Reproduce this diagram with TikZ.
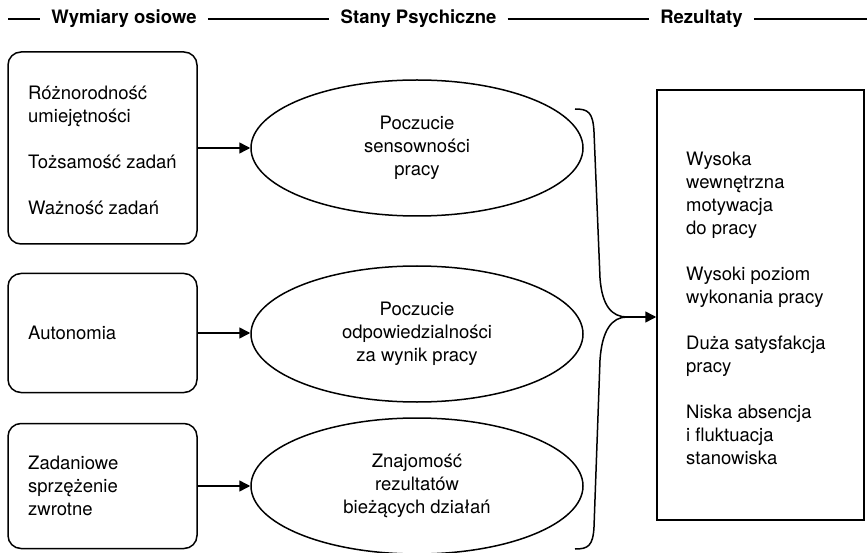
\documentclass[tikz,border=0pt]{standalone}
\usepackage{fontspec}
\setmainfont{TeX Gyre Heros}
\usetikzlibrary{shapes.geometric,arrows.meta}
\begin{document}
\begin{tikzpicture}[x=1pt,y=-1pt,
  every node/.style={font=\fontsize{18.5}{23}\selectfont, text=black},
  hdr/.style={font=\bfseries\fontsize{18.5}{23}\selectfont, inner xsep=11pt, inner ysep=0pt},
  hline/.style={line width=1.5pt},
  lbox/.style={draw, line width=1.5pt, rounded corners=13pt, minimum width=189pt, inner sep=0pt},
  ltext/.style={anchor=west, align=left, inner sep=0pt},
  ell/.style={draw, ellipse, line width=1.5pt, minimum width=332pt, minimum height=136pt,
    align=center, inner sep=0pt},
  rbox/.style={draw, line width=1.5pt, minimum width=207pt, minimum height=430pt, inner sep=0pt},
  rtext/.style={anchor=west, align=left, inner sep=0pt},
  arr/.style={line width=1.5pt, -{Triangle[length=11pt,width=11pt]}},
  brace/.style={line width=1.5pt}
]
\useasboundingbox (0,0) rectangle (867,553);

% header
\node[hdr] (h1) at (124,19) {Wymiary osiowe};
\node[hdr] (h2) at (418.5,19) {Stany Psychiczne};
\node[hdr] (h3) at (701.5,19) {Rezultaty};
\coordinate (hs) at (8,19);
\coordinate (he) at (867,19);
\draw[hline] (hs) -- (h1.west);
\draw[hline] (h1.east) -- (h2.west);
\draw[hline] (h2.east) -- (h3.west);
\draw[hline] (h3.east) -- (he);

% left boxes
\node[lbox, minimum height=192pt] (b1) at (102.5,148) {};
\node[lbox, minimum height=119pt] (b2) at (102.5,333) {};
\node[lbox, minimum height=125pt] (b3) at (102.5,486) {};
\node[ltext] (t1) at (28,150)
  {Różnorodność\\umiejętności\\[23pt]Tożsamość zadań\\[23pt]Ważność zadań};
\node[ltext] (t2) at (28,333) {Autonomia};
\node[ltext] (t3) at (28,486) {Zadaniowe\\sprzężenie\\zwrotne};

% ellipses
\node[ell] (e1) at (417,148) {Poczucie\\sensowności\\pracy};
\node[ell] (e2) at (417,334) {Poczucie\\odpowiedzialności\\za wynik pracy};
\node[ell] (e3) at (417,486) {Znajomość\\rezultatów\\bieżących działań};

% arrows left -> ellipses
\draw[arr] (b1.east) -- (b1.east -| e1.west);
\draw[arr] (b2.east) -- (b2.east -| e2.west);
\draw[arr] (b3.east) -- (b3.east -| e3.west);

% right box
\node[rbox] (r) at (760.5,305) {};
\node[rtext] (rt) at (686,308)
  {Wysoka\\wewnętrzna\\motywacja\\do pracy\\[23pt]Wysoki poziom\\wykonania pracy\\[23pt]Duża satysfakcja\\pracy\\[23pt]Niska absencja\\i fluktuacja\\stanowiska};

% brace
\coordinate (btop) at (575,109);
\coordinate (bbot) at (575,549);
\coordinate (tip) at (627,317);
\draw[brace] (btop) .. controls (588,109) and (593,112) .. (594,132)
  -- (600,278) .. controls (602,306) and (612,317) .. (tip)
  .. controls (612,317) and (602,330) .. (600,360)
  -- (594,527) .. controls (593,546) and (588,549) .. (bbot);
\draw[arr] (tip) -- (r.west |- tip);
\end{tikzpicture}
\end{document}
